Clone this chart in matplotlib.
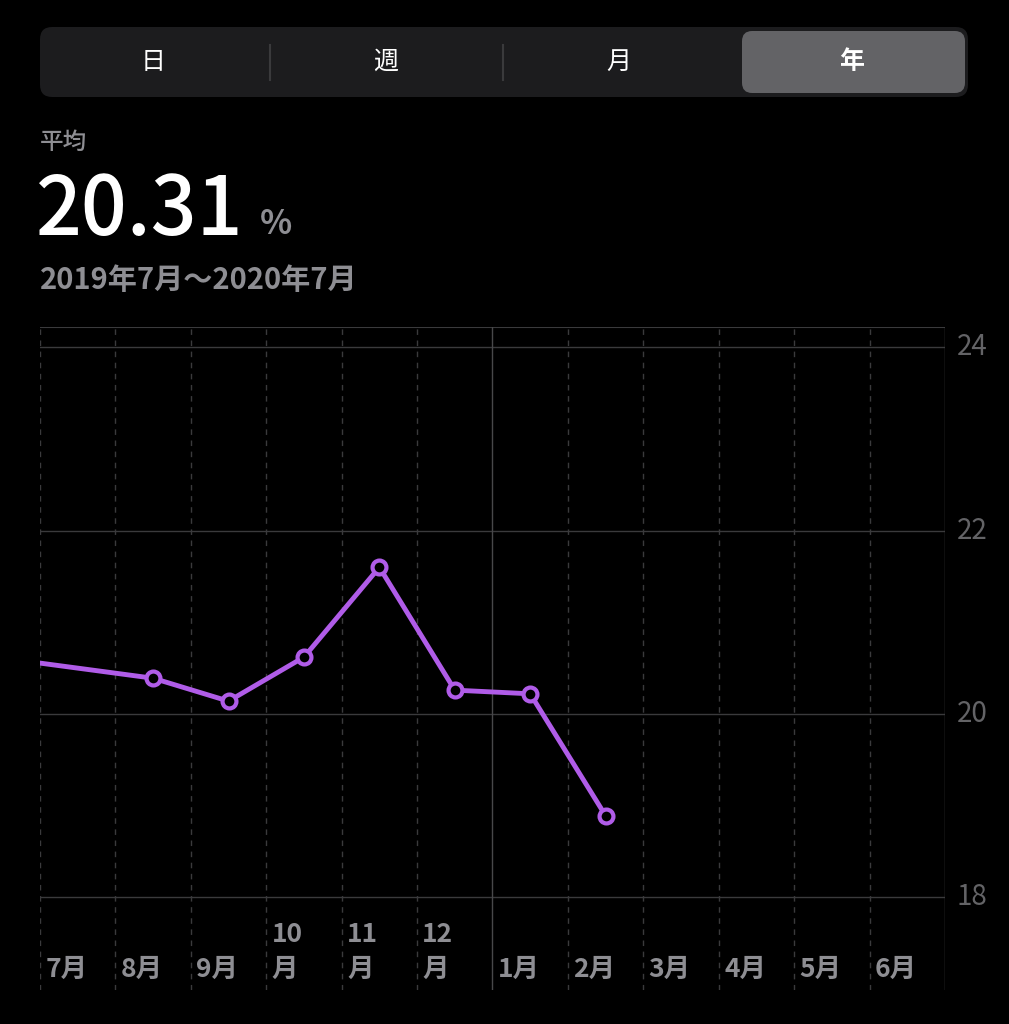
import matplotlib
matplotlib.use("Agg")
import matplotlib.pyplot as plt
from matplotlib.patches import FancyBboxPatch

plt.rcParams['font.family'] = ['Noto Sans CJK JP', 'DejaVu Sans']

# data
months = ["7月", "8月", "9月", "10\n月", "11\n月", "12\n月", "1月", "2月", "3月", "4月", "5月", "6月"]
pos = [-1, 1, 2, 3, 4, 5, 6, 7]          # -1 = June 2019 (off chart)
vals = [20.61, 20.39, 20.14, 20.62, 21.60, 20.26, 20.22, 18.89]
yticks = [18, 20, 22, 24]
tabs = ["日", "週", "月", "年"]

W, H = 1009, 1024
fig = plt.figure(figsize=(W / 100, H / 100), dpi=100, facecolor="black")

def fx(px): return px / W
def fy(py): return 1 - py / H

# segmented control
bg = FancyBboxPatch((fx(40), fy(97)), fx(928), 70 / H, boxstyle="round,pad=0,rounding_size=0.012",
                    transform=fig.transFigure, facecolor="#1c1c1e", edgecolor="none")
sel = FancyBboxPatch((fx(742), fy(93)), fx(223), 62 / H, boxstyle="round,pad=0,rounding_size=0.01",
                     transform=fig.transFigure, facecolor="#636366", edgecolor="none")
fig.patches.extend([bg, sel])
for x in [270, 503]:
    fig.add_artist(plt.Line2D([fx(x), fx(x)], [fy(45), fy(80)], color="#3a3a3c", lw=1.5))
for t, x in zip(tabs, [153, 386, 619, 852]):
    fig.text(fx(x), fy(62), t, color="white", fontsize=18, ha="center", va="center",
             fontweight="bold" if t == "年" else "normal")

fig.text(fx(40), fy(142), "平均", color="#8e8e93", fontsize=17, va="center", fontweight="medium")
fig.text(fx(36), fy(212), "20.31", color="white", fontsize=58, va="center", fontweight="medium")
fig.text(fx(260), fy(225), "%", color="#8e8e93", fontsize=24, va="center", fontweight="bold")
fig.text(fx(40), fy(280), "2019年7月〜2020年7月", color="#8e8e93", fontsize=21, va="center", fontweight="bold")

# chart
ax = fig.add_axes([fx(40), fy(990), fx(905), (990 - 327) / H])
ax.set_facecolor("black")
ax.set_xlim(-0.5, 11.5)
ax.set_ylim(16.99, 24.22)
for s in ax.spines.values():
    s.set_visible(False)
ax.set_xticks([]); ax.set_yticks([])

for y in yticks:
    ax.axhline(y, color="#3a3a3c", lw=1)
ax.axhline(24.22, color="#3a3a3c", lw=1.5)
for k in range(13):
    x = k - 0.5
    if k in (6, 12):
        ax.axvline(x, color="#48484a", lw=1)
    else:
        ax.axvline(x, color="#3a3a3c", lw=1, ls=(0, (4, 4)))

ax.plot(pos, vals, color="#b05ce8", lw=3.5, solid_joinstyle="round")
ax.plot(pos[1:], vals[1:], ls="none", marker="o", ms=10, mfc="black", mec="#b05ce8", mew=3)

for k, m in enumerate(months):
    lines = m.split("\n")
    ax.text(k - 0.43, 17.22, lines[-1], color="#8e8e93", fontsize=19, ha="left", va="center",
            fontweight="bold")
    if len(lines) == 2:
        ax.text(k - 0.43, 17.60, lines[0], color="#8e8e93", fontsize=19, ha="left", va="center",
                fontweight="bold")

for y in yticks:
    ax.text(1.013, (y - 16.99) / (24.22 - 16.99), str(y), transform=ax.transAxes,
            color="#636366", fontsize=20, ha="left", va="center")

fig.savefig("out.png", dpi=100, facecolor="black")
